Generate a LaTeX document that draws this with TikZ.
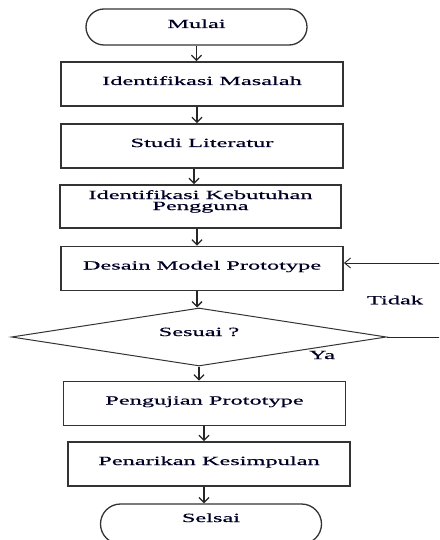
\documentclass[tikz,border=0pt]{standalone}
\usepackage{fontspec}
\setmainfont[FakeStretch=1.95,FakeBold=0.5]{Liberation Serif}
\usetikzlibrary{arrows.meta,shapes.geometric,shapes.misc}
\begin{document}
\begin{tikzpicture}[x=1pt,y=-1pt,
  lbl/.style={font=\fontsize{12.5}{14}\selectfont, text=black!85!blue},
  box/.style={lbl, draw=black!80, line width=1.8pt, minimum width=282pt, minimum height=44pt,
              inner sep=0pt, text height=23pt, text depth=21pt},
  term/.style={lbl, draw=black!80, line width=1.3pt, rounded rectangle, minimum width=221pt,
              minimum height=36pt, inner sep=0pt, text height=10pt, text depth=8pt},
  dec/.style={lbl, draw=black!80, line width=1pt, diamond, aspect=6.47, minimum width=375pt,
              minimum height=58pt, inner sep=0pt, text height=9pt, text depth=11pt},
  arr/.style={draw=black!85, line width=1.3pt, -{Straight Barb[length=5pt,width=10pt]}},
  fb/.style={draw=black!85, line width=0.9pt}
]
\clip (0,0) rectangle (439,540);
\useasboundingbox (0,0) rectangle (439,540);
\fill[white] (0,0) rectangle (439,540);

\node[term] (mulai) at (196.5,27) {Mulai};
\node[box] (b1) at (202,84) {Identifikasi  Masalah};
\node[box] (b2) at (202,146) {Studi  Literatur};
\node[box, minimum width=281pt, minimum height=43pt, text height=14pt, text depth=29pt] (b3) at (200.5,206.5)
  {\begin{tabular}[t]{@{}c@{}}Identifikasi  Kebutuhan\\[-3pt]Pengguna\end{tabular}};
\node[box] (b4) at (202,268.5) {Desain  Model Prototype};
\node[dec] (d) at (199,337) {Sesuai  ?};
\node[box] (b5) at (204.5,403.5) {Pengujian  Prototype};
\node[box] (b6) at (209,464) {Penarikan  Kesimpulan};
\node[term, minimum height=40pt, text height=9pt, text depth=13pt] (selsai) at (211,524) {Selsai};

\node[lbl] (tidak) at (395,300) {Tidak};
\node[lbl] (ya) at (322,355) {Ya};

\coordinate (fa) at (441,337);
\coordinate (fbk) at (441,263);

\draw[arr] (mulai.south) -- (mulai.south |- b1.north);
\draw[arr] (b1.south -| 197,0) -- (b2.north -| 197,0);
\draw[arr] (b2.south -| 194,0) -- (b3.north -| 194,0);
\draw[arr] (b3.south -| 197,0) -- (b4.north -| 197,0);
\draw[arr] (b4.south -| 197,0) -- (d.north -| 197,0);
\draw[arr] (d.south -| 199,0) -- (b5.north -| 199,0);
\draw[arr] (b5.south -| 204,0) -- (b6.north -| 204,0);
\draw[arr] (b6.south -| 204,0) -- (selsai.north -| 204,0);

\draw[fb] (d.east) -- (fa) -- (fbk);
\draw[fb, -{Straight Barb[length=6pt,width=10pt]}] (fbk) -- (fbk -| b4.east);
\end{tikzpicture}
\end{document}
